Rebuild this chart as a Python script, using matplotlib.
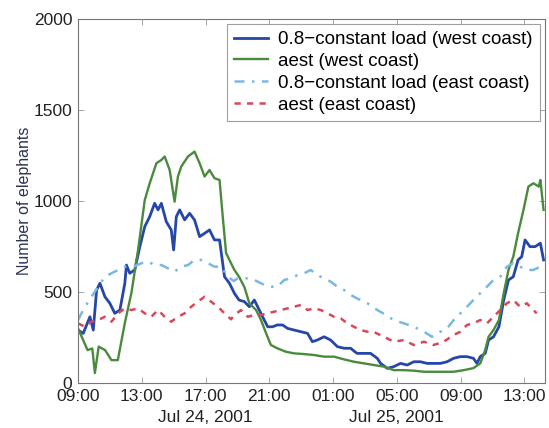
import numpy as np
import pandas as pd
import matplotlib
matplotlib.use("Agg")
import matplotlib.pyplot as plt
import matplotlib.dates as mdates
import matplotlib.transforms as mtransforms

plt.rcParams['font.family'] = ['Liberation Sans', 'DejaVu Sans']

# hours after 09:00 on Jul 24, 2001 and number of elephants
start = pd.Timestamp("2001-07-24 09:00")

west_const_h = [0.0, 0.33, 0.75, 0.96, 1.17, 1.38, 1.69, 2.0, 2.31, 2.63, 2.94, 3.04, 3.25, 3.56,
                3.88, 4.19, 4.5, 4.81, 5.02, 5.23, 5.54, 5.85, 6.0, 6.17, 6.38, 6.69, 7.0, 7.31,
                7.63, 7.94, 8.25, 8.56, 8.88, 9.19, 9.5, 9.81, 10.1, 10.44, 10.75, 11.06, 11.27,
                11.58, 11.9, 12.2, 12.5, 12.83, 13.15, 13.56, 13.98, 14.4, 14.7, 15.0, 15.44,
                15.85, 16.27, 16.69, 17.1, 17.5, 17.94, 18.35, 18.77, 18.98, 19.4, 19.8, 20.23,
                20.65, 21.06, 21.48, 21.9, 22.3, 22.73, 23.15, 23.56, 23.98, 24.4, 24.8, 25.02,
                25.23, 25.54, 25.75, 26.06, 26.4, 26.7, 27.0, 27.3, 27.6, 27.83, 28.04, 28.35,
                28.67, 29.0, 29.2]
west_const = [291, 273, 364, 291, 511, 548, 474, 438, 383, 401, 548, 648, 603, 621,
              749, 859, 914, 987, 951, 987, 886, 841, 731, 914, 951, 896, 932, 896,
              804, 822, 841, 786, 786, 584, 548, 493, 456, 447, 419, 456, 419,
              364, 309, 309, 319, 319, 300, 291, 282, 273, 227, 236, 254,
              236, 200, 191, 191, 163, 163, 163, 136, 108, 81, 90, 108,
              99, 117, 117, 108, 108, 108, 117, 136, 145, 145, 136, 108,
              145, 163, 236, 254, 309, 456, 566, 584, 676, 694, 786, 749,
              749, 768, 676]

west_aest_h = [0.0, 0.6, 0.9, 1.06, 1.3, 1.7, 2.1, 2.5, 2.94, 3.35, 3.77, 4.19, 4.5, 4.92, 5.23,
               5.44, 5.75, 6.06, 6.27, 6.48, 6.9, 7.31, 7.63, 7.94, 8.25, 8.56, 8.88, 9.08,
               9.29, 9.5, 9.81, 10.1, 10.44, 10.75, 11.17, 11.48, 11.8, 12.1, 12.5, 13.04,
               13.56, 14.2, 14.8, 15.44, 16.06, 16.69, 17.31, 17.94, 18.56, 19.2, 19.8, 20.4,
               21.06, 21.7, 22.3, 22.94, 23.56, 24.2, 24.8, 25.23, 25.54, 25.75, 26.06, 26.4,
               26.7, 27.0, 27.3, 27.6, 27.94, 28.25, 28.56, 28.9, 29.0, 29.2]
west_aest = [302, 181, 190, 55, 200, 181, 126, 126, 330, 494, 731, 1005, 1097, 1207, 1225,
             1244, 1170, 996, 1134, 1189, 1244, 1271, 1207, 1134, 1170, 1125, 1115, 914,
             714, 676, 621, 584, 527, 438, 401, 346, 273, 209, 191, 172,
             163, 159, 154, 145, 145, 130, 117, 108, 99, 90, 71, 71,
             68, 62, 62, 62, 62, 71, 82, 108, 181, 254, 291, 346,
             493, 621, 694, 822, 951, 1079, 1097, 1079, 1115, 951]

east_const_h = [0.0, 0.44, 0.85, 1.27, 1.69, 2.1, 2.52, 2.94, 3.46, 3.98, 4.4, 4.81, 5.23, 5.65,
                6.06, 6.48, 6.9, 7.31, 7.73, 8.15, 8.56, 8.98, 9.4, 9.77, 10.02, 10.44, 10.85,
                11.27, 11.69, 12.1, 12.5, 12.94, 13.35, 13.77, 14.19, 14.6, 15.0, 15.44, 15.85,
                16.27, 16.69, 17.1, 17.5, 17.94, 18.35, 18.77, 19.2, 19.8, 20.44, 21.06, 21.7,
                22.2, 22.73, 23.15, 23.56, 23.98, 24.4, 24.8, 25.23, 25.65, 26.06, 26.48, 26.9,
                27.3, 27.73, 28.15, 28.56, 29.0]
east_const = [346, 419, 474, 529, 584, 603, 621, 639, 639, 658, 667, 648, 648, 630,
              612, 639, 648, 676, 676, 658, 639, 639, 584, 560, 575, 575, 575,
              557, 539, 529, 529, 566, 575, 593, 603, 621, 593, 575, 557,
              529, 511, 484, 465, 447, 429, 401, 380, 346, 328, 309, 282,
              254, 282, 300, 346, 383, 419, 456, 493, 529, 566, 584, 639,
              658, 639, 621, 621, 639]

east_aest_h = [0.0, 0.44, 0.85, 1.27, 1.69, 2.1, 2.52, 2.94, 3.35, 3.77, 4.19, 4.6, 5.02, 5.44,
               5.85, 6.27, 6.69, 7.1, 7.52, 7.94, 8.35, 8.77, 9.19, 9.6, 9.81, 10.23, 10.65,
               11.06, 11.48, 11.9, 12.31, 12.73, 13.15, 13.56, 13.98, 14.4, 14.81, 15.23, 15.65,
               16.06, 16.48, 16.9, 17.31, 17.73, 18.15, 18.56, 19.2, 19.8, 20.44, 21.06, 21.7,
               22.3, 22.94, 23.56, 23.98, 24.4, 24.8, 25.23, 25.65, 26.06, 26.48, 26.9, 27.3,
               27.73, 28.15, 28.56, 28.77]
east_aest = [328, 309, 337, 346, 364, 337, 383, 410, 401, 410, 383, 364, 401, 364,
             337, 364, 383, 419, 447, 474, 447, 419, 383, 350, 374, 401, 364,
             374, 374, 383, 392, 401, 410, 419, 429, 401, 410, 401, 383,
             364, 355, 328, 309, 291, 282, 280, 254, 227, 236, 209, 227,
             209, 227, 264, 282, 319, 328, 346, 328, 364, 401, 438, 456,
             419, 438, 401, 383]

date_labels = ["Jul 24, 2001", "Jul 25, 2001"]
date_label_h = [8, 20]


def to_time(hours):
    return start + pd.to_timedelta(np.array(hours), unit="h")


fig = plt.figure(figsize=(5.49, 4.28), dpi=100)
ax = fig.add_axes([0.142, 0.105, 0.851, 0.851])

ax.plot(to_time(west_const_h), west_const, color="#2646a8", lw=2.0,
        label="0.8\u2212constant load (west coast)")
ax.plot(to_time(west_aest_h), west_aest, color="#4a8a3c", lw=1.7,
        label="aest (west coast)")
ax.plot(to_time(east_const_h), east_const, color="#7ab8e0", lw=1.8, ls=(0, (4, 3, 1, 3)),
        label="0.8\u2212constant load (east coast)")
ax.plot(to_time(east_aest_h), east_aest, color="#d9485a", lw=1.8, ls=(0, (2.5, 2.5)),
        label="aest (east coast)")

ax.set_ylim(0, 2000)
ax.set_yticks([0, 500, 1000, 1500, 2000])
ax.set_xlim(start, start + pd.Timedelta(hours=29.3))

ticks = [start + pd.Timedelta(hours=4 * i) for i in range(8)]
ax.set_xticks(ticks)
ax.xaxis.set_major_formatter(mdates.DateFormatter("%H:%M"))
ax.tick_params(direction="in", top=True, right=True, length=4, width=0.6,
               colors="#999999", labelcolor="#222222", labelsize=12.5, pad=4)
for sp in ax.spines.values():
    sp.set_color("#777777")
    sp.set_linewidth(0.8)

# day labels under the middle tick of each day
trans = mtransforms.blended_transform_factory(ax.transData, ax.transAxes)
for lab, h in zip(date_labels, date_label_h):
    ax.text(mdates.date2num(start + pd.Timedelta(hours=h)), -0.075, lab,
            transform=trans, ha="center", va="top", fontsize=12.5, color="#222222")

ax.set_ylabel("Number of elephants", fontsize=11.5, color="#2a3350", labelpad=1)

leg = ax.legend(loc="upper right", fontsize=13.5, frameon=True, fancybox=False,
                handlelength=1.8, handletextpad=0.55, borderpad=0.4, labelspacing=0.25,
                borderaxespad=0.25)
leg.get_frame().set_edgecolor("#888888")
leg.get_frame().set_linewidth(0.8)

fig.savefig("out.png", dpi=100)
